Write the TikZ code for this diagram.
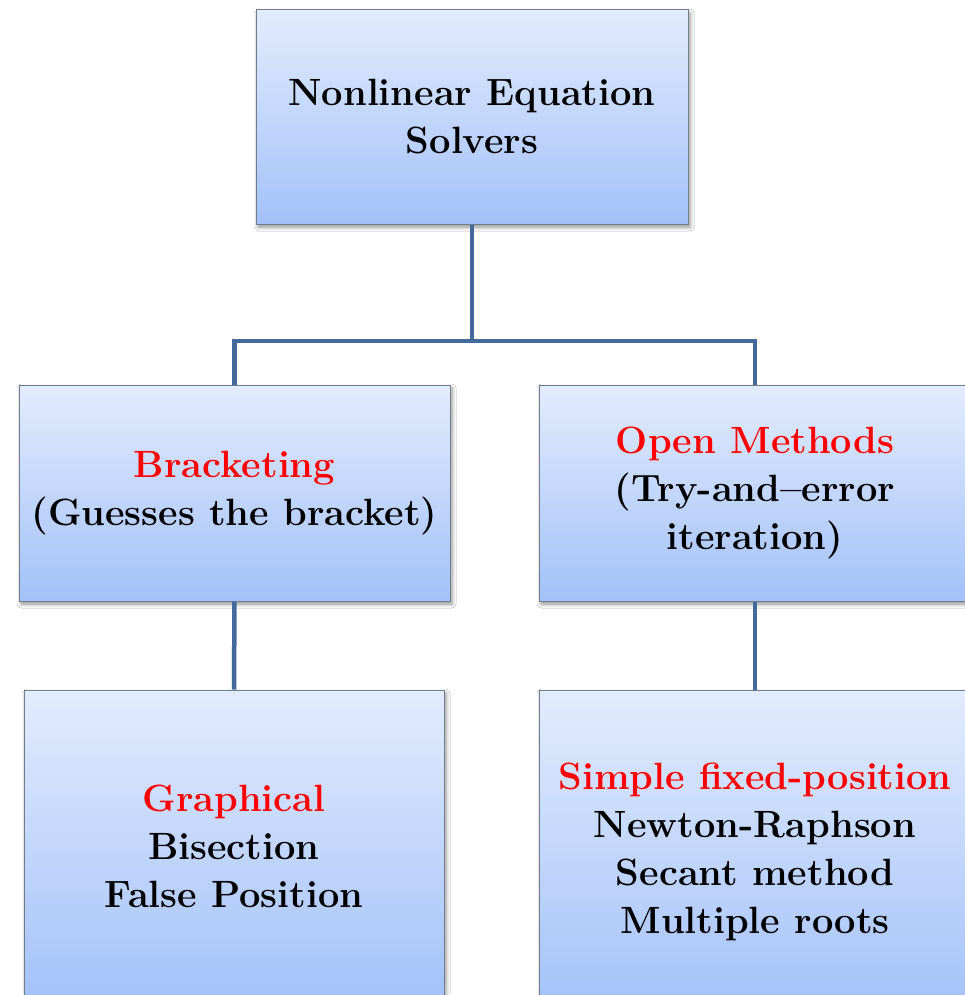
\documentclass[tikz,border=0pt]{standalone}
\usepackage{xcolor}
\usepackage{tikz}
\usetikzlibrary{shadows.blur}

\definecolor{boxtop}{HTML}{E2ECFD}
\definecolor{boxbot}{HTML}{A3C1F9}
\definecolor{boxline}{HTML}{6F7C8C}
\definecolor{linkblue}{HTML}{44699C}

\begin{document}
\begin{tikzpicture}[x=1pt,y=-1pt,
  box/.style={rectangle,draw=boxline,line width=1pt,top color=boxtop,bottom color=boxbot,
    align=center,font=\fontsize{38}{48}\selectfont\bfseries,inner sep=0pt,
    blur shadow={shadow xshift=2pt,shadow yshift=-3pt,shadow blur radius=4pt,shadow opacity=45}},
  link/.style={draw=linkblue,line width=4.5pt}]
\clip (0,0) rectangle (965,995);
\fill[white] (0,0) rectangle (965,995);
% top of the tree
\node[box,minimum width=432pt,minimum height=214pt] (solvers) at (472,117) {Nonlinear Equation\\Solvers};
% second row
\node[box,minimum width=431pt,minimum height=216pt] (bracket) at (234.5,493) {\textcolor{red}{Bracketing}\\(Guesses the bracket)};
\node[box,minimum width=432pt,minimum height=216pt] (open) at (755,493) {\textcolor{red}{Open Methods}\\(Try-and--error\\iteration)};
% third row
\node[box,minimum width=420pt,minimum height=312pt] (graph) at (234,846) {\textcolor{red}{Graphical}\\Bisection\\False Position};
\node[box,minimum width=432pt,minimum height=324pt] (simple) at (755,852) {\textcolor{red}{Simple fixed-position}\\Newton-Raphson\\Secant method\\Multiple roots};
\coordinate (fork) at (472,341);
\draw[link] (solvers.south) -- (fork);
\draw[link] (fork) -| (bracket.north);
\draw[link] (fork) -| (open.north);
\draw[link] (bracket.south) -- (graph.north);
\draw[link] (open.south) -- (simple.north);
\end{tikzpicture}
\end{document}
